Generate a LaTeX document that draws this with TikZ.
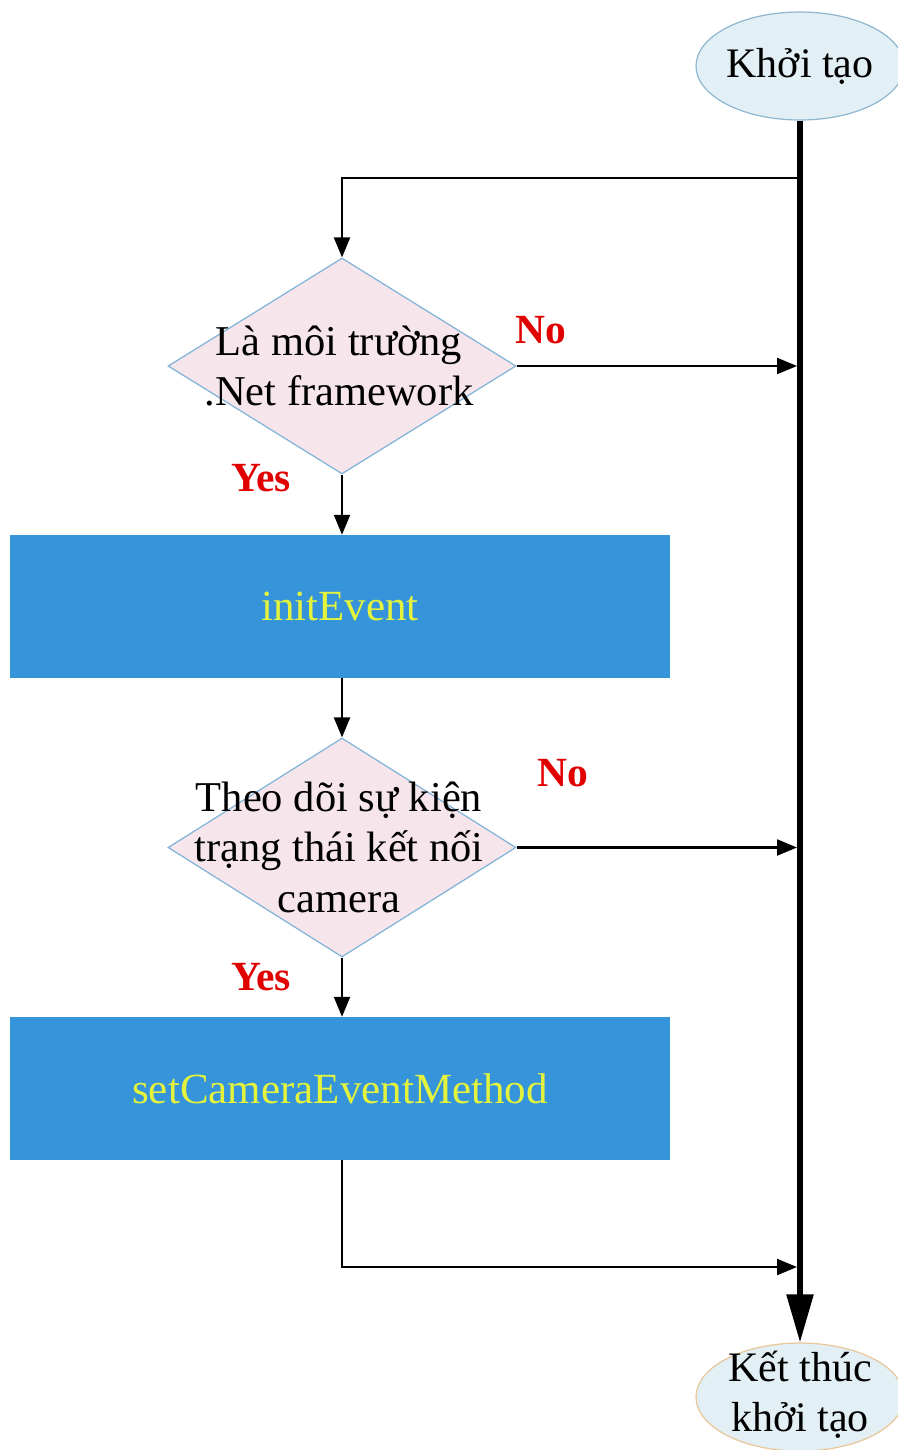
\documentclass[tikz,border=0pt]{standalone}
\usepackage{fontspec}
\setmainfont{Liberation Serif}
\usetikzlibrary{shapes.geometric,arrows.meta}

\definecolor{termfill}{HTML}{E2F0F5}
\definecolor{termline}{HTML}{8DB6CF}
\definecolor{endline}{HTML}{E9C698}
\definecolor{decfill}{HTML}{F6E5EA}
\definecolor{decline}{HTML}{7FB2D8}
\definecolor{procfill}{HTML}{3695DA}
\definecolor{proctext}{HTML}{E4F43C}
\definecolor{answercol}{HTML}{E10000}

\begin{document}
\begin{tikzpicture}[x=1pt,y=-1pt,
  terminal/.style={ellipse, fill=termfill, draw=termline, line width=1.2pt,
    minimum width=208pt, minimum height=108pt, inner sep=0pt},
  termtext/.style={align=center, inner sep=0pt, font=\fontsize{42}{50}\selectfont},
  decision/.style={diamond, fill=decfill, draw=decline, line width=1.2pt,
    minimum width=348pt, minimum height=216pt, inner sep=0pt},
  dtext/.style={align=center, inner sep=0pt, font=\fontsize{42.5}{50.5}\selectfont},
  process/.style={rectangle, fill=procfill, minimum width=660pt, minimum height=143pt,
    inner sep=0pt, text=proctext, font=\fontsize{43}{50}\selectfont},
  anslabel/.style={inner sep=0pt, text=answercol, font=\bfseries\fontsize{41.5}{44}\selectfont},
  flow/.style={line width=2.2pt, -{Triangle[length=20pt,width=16pt]}},
  trunk/.style={line width=5.5pt, -{Triangle[length=48pt,width=26pt]}},
]
\useasboundingbox (0,0) rectangle (897,1450);

% start and end of the initialisation
\node[terminal] (start) at (800,66) {};
\node[termtext] (starttext) at (start.center) {Khởi tạo};
\node[terminal, draw=endline] (stop) at (800,1397) {};
\node[termtext] (stoptext) at (800,1395) {Kết thúc\\khởi tạo};

% decisions
\node[decision] (d1) at (342,366) {};
\node[dtext] (d1text) at (339,366) {Là môi trường\\.Net framework};
\node[decision, minimum height=219pt] (d2) at (342,847.5) {};
\node[dtext] (d2text) at (339,847) {Theo dõi sự kiện\\trạng thái kết nối\\camera};

% processes
\node[process] (r1) at (340,606.5) {initEvent};
\node[process] (r2) at (340,1088.5) {setCameraEventMethod};

% branch labels
\node[anslabel] (no1) at (541,330) {No};
\node[anslabel] (yes1) at (261,478) {Yes};
\node[anslabel] (no2) at (563,773) {No};
\node[anslabel] (yes2) at (261,977) {Yes};

% main trunk
\draw[trunk] (start.south) -- (stop.north);

% joints on the trunk
\coordinate (split) at (800,178);
\coordinate (join1) at (797,366);
\coordinate (join2) at (797,847.5);
\coordinate (join3) at (797,1267);

\draw[flow] (split) -| (d1.north);
\draw[flow] (d1.east) -- (join1);
\draw[flow] (d1.south) -- (d1.south |- r1.north);
\draw[flow] (d2.north |- r1.south) -- (d2.north);
\draw[flow] (d2.east) -- (join2);
\draw[flow] (d2.south) -- (d2.south |- r2.north);
\draw[flow] (d2.south |- r2.south) |- (join3);
\end{tikzpicture}
\end{document}
